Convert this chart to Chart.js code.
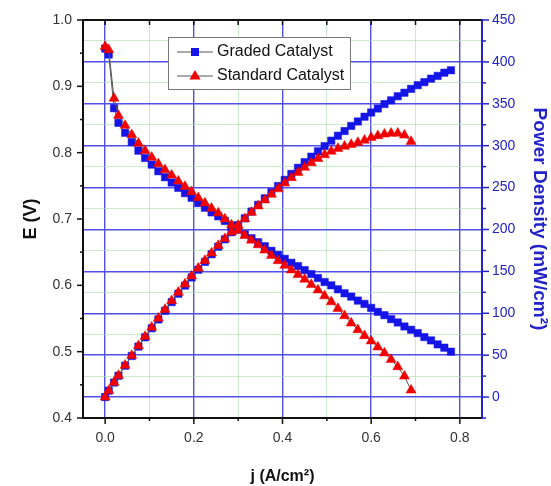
<!DOCTYPE html>
<html>
<head>
<meta charset="utf-8">
<script src="https://cdn.jsdelivr.net/npm/chart.js@4.4.1/dist/chart.umd.min.js"></script>
<style>
  html, body { margin: 0; padding: 0; background: #fff; }
</style>
</head>
<body>
<canvas id="polarizationChart" width="551" height="486"></canvas>
<script>
// current density j (A/cm2), cell voltage E (V), power density (mW/cm2)
const currentGraded = [0, 0.008, 0.02, 0.03, 0.045, 0.06, 0.075, 0.09, 0.105, 0.12, 0.135, 0.15, 0.165, 0.18, 0.195,
  0.21, 0.225, 0.24, 0.255, 0.27, 0.285, 0.3, 0.315, 0.33, 0.345, 0.36, 0.375, 0.39, 0.405, 0.42, 0.435, 0.45, 0.465,
  0.48, 0.495, 0.51, 0.525, 0.54, 0.555, 0.57, 0.585, 0.6, 0.615, 0.63, 0.645, 0.66, 0.675, 0.69, 0.705, 0.72, 0.735,
  0.75, 0.765, 0.78];
const voltageGraded = [0.957, 0.948, 0.867, 0.845, 0.830, 0.816, 0.803, 0.792, 0.782, 0.772, 0.763, 0.755, 0.747, 0.739,
  0.732, 0.724, 0.717, 0.710, 0.704, 0.697, 0.690, 0.684, 0.677, 0.671, 0.665, 0.659, 0.652, 0.646, 0.640, 0.634, 0.629,
  0.623, 0.617, 0.611, 0.605, 0.600, 0.594, 0.588, 0.583, 0.577, 0.572, 0.566, 0.560, 0.555, 0.549, 0.544, 0.538, 0.533,
  0.528, 0.522, 0.517, 0.511, 0.506, 0.500];
const powerGraded = [0, 7.6, 17.3, 25.4, 37.4, 49.0, 60.2, 71.3, 82.1, 92.6, 103.0, 113.3, 123.3, 133.0, 142.7, 152.0,
  161.3, 170.4, 179.5, 188.2, 196.7, 205.2, 213.3, 221.4, 229.4, 237.2, 244.5, 251.9, 259.2, 266.3, 273.6, 280.4, 286.9,
  293.3, 299.5, 306.0, 311.9, 317.5, 323.6, 328.9, 334.6, 339.6, 344.4, 349.7, 354.1, 359.0, 363.2, 367.8, 372.2, 375.8,
  380.0, 383.3, 387.1, 390.0];

const currentStandard = [0, 0.008, 0.02, 0.03, 0.045, 0.06, 0.075, 0.09, 0.105, 0.12, 0.135, 0.15, 0.165, 0.18, 0.195,
  0.21, 0.225, 0.24, 0.255, 0.27, 0.285, 0.3, 0.315, 0.33, 0.345, 0.36, 0.375, 0.39, 0.405, 0.42, 0.435, 0.45, 0.465,
  0.48, 0.495, 0.51, 0.525, 0.54, 0.555, 0.57, 0.585, 0.6, 0.615, 0.63, 0.645, 0.66, 0.675, 0.69];
const voltageStandard = [0.960, 0.955, 0.882, 0.856, 0.841, 0.827, 0.814, 0.803, 0.793, 0.783, 0.774, 0.766, 0.757,
  0.749, 0.741, 0.732, 0.724, 0.716, 0.709, 0.700, 0.691, 0.683, 0.675, 0.668, 0.661, 0.653, 0.645, 0.637, 0.630, 0.623,
  0.616, 0.609, 0.601, 0.593, 0.584, 0.575, 0.565, 0.554, 0.543, 0.533, 0.524, 0.516, 0.507, 0.498, 0.488, 0.477, 0.463,
  0.442];
const powerStandard = [0, 7.6, 17.6, 25.7, 37.8, 49.6, 61.1, 72.3, 83.3, 94.0, 104.5, 114.9, 124.9, 134.8, 144.5, 153.7,
  162.9, 171.8, 180.8, 189.0, 196.9, 204.9, 212.6, 220.4, 228.0, 235.1, 241.9, 248.4, 255.2, 261.7, 268.0, 274.1, 279.5,
  284.6, 289.1, 293.3, 296.6, 299.2, 301.4, 303.8, 306.5, 309.6, 311.8, 313.7, 314.8, 314.8, 312.5, 305.0];

const seriesNames = ['Graded Catalyst', 'Standard Catalyst'];

// ticks (empty label = minor tick)
const jTicks = [0, 0.1, 0.2, 0.3, 0.4, 0.5, 0.6, 0.7, 0.8];
const jLabels = ['0.0', '', '0.2', '', '0.4', '', '0.6', '', '0.8'];
const eTicks = [0.4, 0.45, 0.5, 0.55, 0.6, 0.65, 0.7, 0.75, 0.8, 0.85, 0.9, 0.95, 1.0];
const eLabels = ['0.4', '', '0.5', '', '0.6', '', '0.7', '', '0.8', '', '0.9', '', '1.0'];
const pTicks = [-25, 0, 25, 50, 75, 100, 125, 150, 175, 200, 225, 250, 275, 300, 325, 350, 375, 400, 425, 450];
const pLabels = ['', '0', '', '50', '', '100', '', '150', '', '200', '', '250', '', '300', '', '350', '', '400', '', '450'];

const BLUE = '#1414e6';
const RED = '#f00000';
const AXIS_BLUE = '#2323c8';
const GRID_BLUE = 'rgb(80, 80, 232)';
const GRID_GREEN = 'rgba(170, 220, 170, 0.6)';

Chart.defaults.font.family = "'Liberation Sans', Arial, sans-serif";

function toPoints(xs, ys) {
  return xs.map((x, i) => ({ x: x, y: ys[i] }));
}

function seriesStyle(color, shape, radius) {
  return {
    borderColor: '#555',
    borderWidth: 1,
    pointStyle: shape,
    pointRadius: radius,
    pointBackgroundColor: color,
    pointBorderColor: color,
    pointBorderWidth: 0.5,
    tension: 0,
    fill: false
  };
}

function setTicks(values) {
  return scale => { scale.ticks = values.map(v => ({ value: v })); };
}

// draws the frame, tick marks and the legend box
const framePlugin = {
  id: 'frame',
  afterDraw(chart) {
    const { ctx, chartArea: a, scales } = chart;
    const seg = (x1, y1, x2, y2) => { ctx.beginPath(); ctx.moveTo(x1, y1); ctx.lineTo(x2, y2); ctx.stroke(); };
    ctx.save();
    ctx.strokeStyle = '#111';
    ctx.lineWidth = 1.5;
    jTicks.forEach((v, i) => {
      const x = scales.x.getPixelForValue(v);
      seg(x, a.bottom, x, a.bottom + (jLabels[i] ? 6 : 3));
      seg(x, a.top, x, a.top + 5);
    });
    eTicks.forEach((v, i) => {
      const y = scales.y.getPixelForValue(v);
      seg(a.left, y, a.left - (eLabels[i] ? 6 : 3), y);
    });
    ctx.lineWidth = 2;
    seg(a.left, a.top, a.right, a.top);
    seg(a.left, a.top - 1, a.left, a.bottom + 1);
    seg(a.left - 1, a.bottom, a.right, a.bottom);
    ctx.strokeStyle = AXIS_BLUE;
    seg(a.right, a.top - 1, a.right, a.bottom + 1);
    ctx.lineWidth = 1.5;
    pTicks.forEach((v, i) => {
      const y = scales.y2.getPixelForValue(v);
      seg(a.right, y, a.right + (pLabels[i] ? 7 : 4), y);
    });

    // legend
    const bx = 168.5, by = 37.5, bw = 182, bh = 52;
    ctx.fillStyle = '#fff';
    ctx.fillRect(bx, by, bw, bh);
    ctx.strokeStyle = '#777';
    ctx.lineWidth = 1;
    ctx.strokeRect(bx, by, bw, bh);
    ctx.font = "16px 'Liberation Sans', Arial, sans-serif";
    ctx.textBaseline = 'middle';
    seriesNames.forEach((name, i) => {
      const ly = 52 + i * 24;
      ctx.strokeStyle = '#555';
      seg(177, ly, 213, ly);
      ctx.fillStyle = i === 0 ? BLUE : RED;
      if (i === 0) {
        ctx.fillRect(191, ly - 4, 8, 8);
      } else {
        ctx.beginPath();
        ctx.moveTo(195, ly - 6);
        ctx.lineTo(200.5, ly + 3.5);
        ctx.lineTo(189.5, ly + 3.5);
        ctx.closePath();
        ctx.fill();
      }
      ctx.fillStyle = '#111';
      ctx.fillText(name, 217, ly);
    });
    ctx.restore();
  }
};

const ctx = document.getElementById('polarizationChart').getContext('2d');
new Chart(ctx, {
  type: 'line',
  data: {
    datasets: [
      Object.assign({ label: seriesNames[0], data: toPoints(currentGraded, voltageGraded), yAxisID: 'y', order: 1 },
        seriesStyle(BLUE, 'rect', 5.2)),
      Object.assign({ label: seriesNames[1], data: toPoints(currentStandard, voltageStandard), yAxisID: 'y', order: 0 },
        seriesStyle(RED, 'triangle', 5.8)),
      Object.assign({ label: seriesNames[0] + ' power', data: toPoints(currentGraded, powerGraded), yAxisID: 'y2', order: 1 },
        seriesStyle(BLUE, 'rect', 5.2)),
      Object.assign({ label: seriesNames[1] + ' power', data: toPoints(currentStandard, powerStandard), yAxisID: 'y2', order: 0 },
        seriesStyle(RED, 'triangle', 5.8))
    ]
  },
  options: {
    responsive: false,
    animation: false,
    events: [],
    layout: { padding: { top: 20, left: 0, right: 0, bottom: 0 } },
    plugins: { legend: { display: false }, tooltip: { enabled: false } },
    scales: {
      x: {
        type: 'linear',
        min: -0.05,
        max: 0.85,
        afterBuildTicks: setTicks(jTicks),
        afterFit: scale => { scale.height = 68; },
        border: { display: false },
        grid: {
          drawTicks: false,
          color: c => (jLabels[c.index] ? GRID_BLUE : GRID_GREEN),
          lineWidth: c => (jLabels[c.index] ? 1.4 : 1)
        },
        ticks: {
          autoSkip: false,
          maxRotation: 0,
          padding: 12,
          color: '#333',
          font: { size: 14 },
          callback: (v, i) => jLabels[i]
        },
        title: {
          display: true,
          text: 'j (A/cm²)',
          color: '#111',
          font: { size: 16, weight: 'bold' },
          padding: { top: 0, bottom: 0 }
        }
      },
      y: {
        type: 'linear',
        position: 'left',
        min: 0.4,
        max: 1.0,
        afterBuildTicks: setTicks(eTicks),
        afterFit: scale => { scale.width = 83; },
        border: { display: false },
        grid: { drawOnChartArea: false, drawTicks: false },
        ticks: {
          autoSkip: false,
          padding: 11,
          color: '#333',
          font: { size: 14 },
          callback: (v, i) => eLabels[i]
        },
        title: {
          display: true,
          text: 'E (V)',
          color: '#111',
          font: { size: 18, weight: 'bold' },
          padding: { top: 20, bottom: 0 }
        }
      },
      y2: {
        type: 'linear',
        position: 'right',
        min: -25,
        max: 450,
        afterBuildTicks: setTicks(pTicks),
        afterFit: scale => { scale.width = 69; },
        border: { display: false },
        grid: {
          drawTicks: false,
          color: c => {
            const v = pTicks[c.index];
            if (v === -25 || v === 450) return 'rgba(0,0,0,0)';
            return pLabels[c.index] ? GRID_BLUE : GRID_GREEN;
          },
          lineWidth: c => (pLabels[c.index] ? 1.4 : 1)
        },
        ticks: {
          autoSkip: false,
          padding: 10,
          color: AXIS_BLUE,
          font: { size: 14 },
          callback: (v, i) => pLabels[i]
        },
        title: {
          display: true,
          text: 'Power Density (mW/cm²)',
          color: AXIS_BLUE,
          font: { size: 19, weight: 'bold' },
          padding: { top: 0, bottom: 0 }
        }
      }
    }
  },
  plugins: [framePlugin]
});
</script>
</body>
</html>
